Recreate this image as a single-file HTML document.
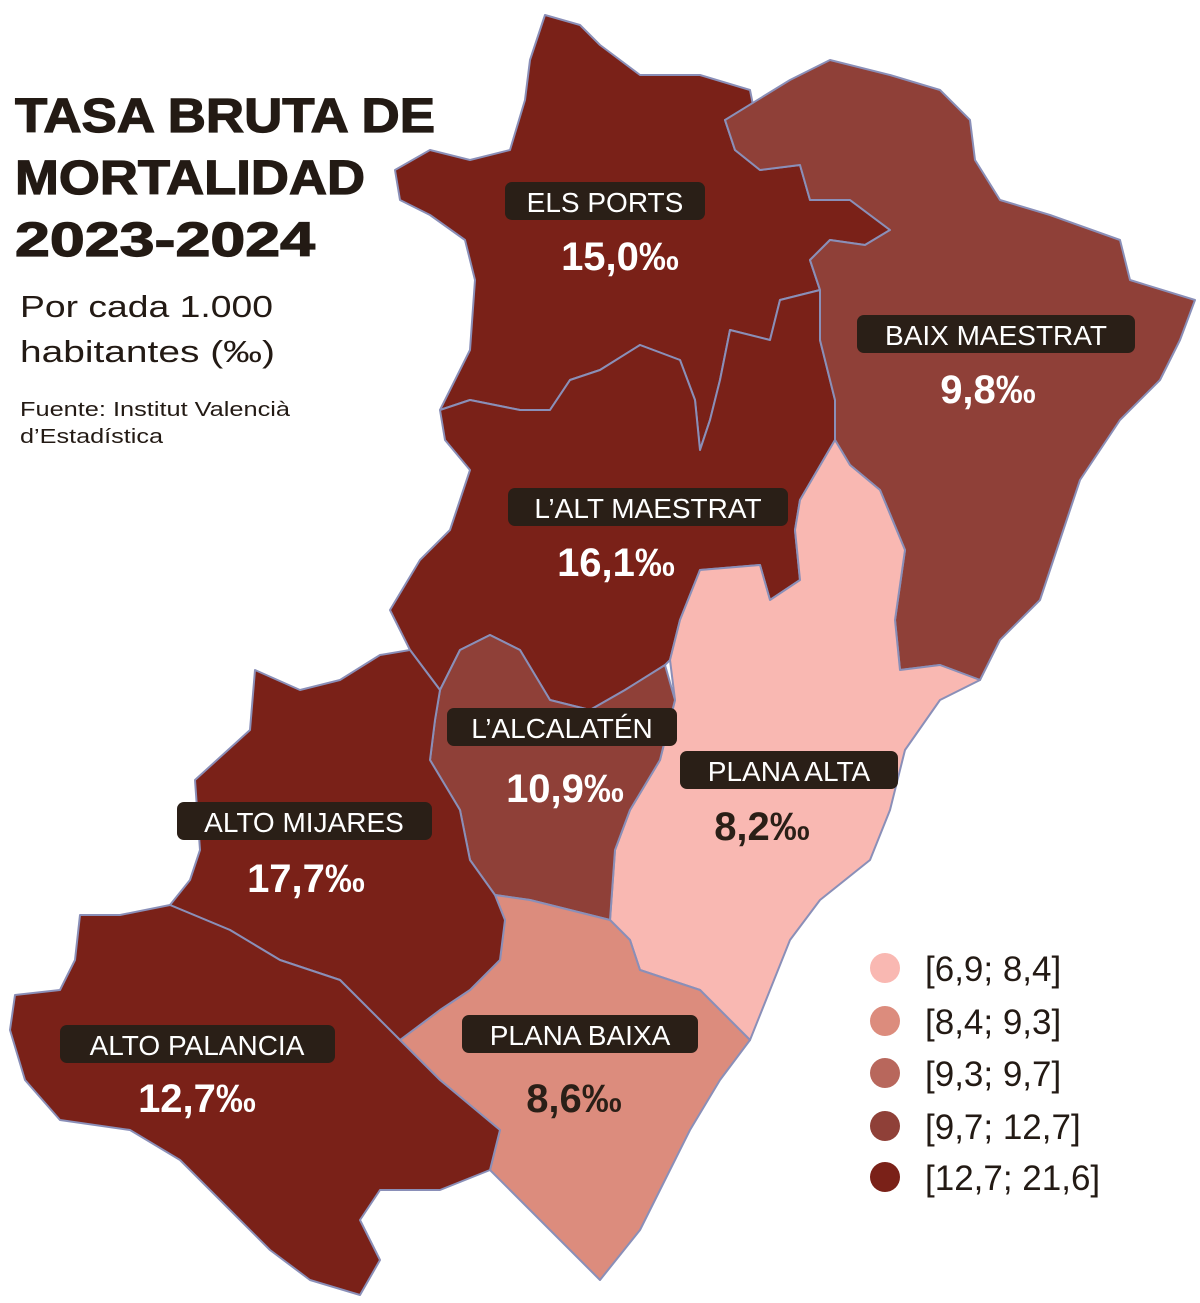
<!DOCTYPE html>
<html><head><meta charset="utf-8"><style>
body{margin:0;background:#fff;}
svg{display:block;font-family:"Liberation Sans",sans-serif;}
</style></head><body>
<svg width="1200" height="1303" viewBox="0 0 1200 1303">
<g stroke="#8a8fb8" stroke-width="2" stroke-linejoin="round">
<polygon fill="#7a2118" points="545,15 580,25 600,45 640,75 700,75 750,90 755,115 725,120 735,150 760,170 800,165 810,200 850,200 890,230 865,245 830,240 810,260 820,290 800,295 780,300 770,340 730,330 720,380 710,420 700,450 695,400 680,360 640,345 600,370 570,380 550,410 520,410 470,400 440,410 470,350 475,280 465,240 430,215 400,200 395,170 430,150 470,160 510,150 525,100 530,60"/>
<polygon fill="#7a2118" points="440,410 470,400 520,410 550,410 570,380 600,370 640,345 680,360 695,400 700,450 710,420 720,380 730,330 770,340 780,300 800,295 820,290 820,340 835,400 835,440 800,500 795,530 800,580 770,600 760,565 700,570 680,620 670,660 665,665 625,690 590,710 550,700 520,650 490,635 460,650 440,690 410,650 390,610 420,560 450,530 470,470 445,440"/>
<polygon fill="#8f4038" points="725,120 790,80 830,60 890,75 940,90 970,120 975,160 1000,200 1050,215 1120,240 1130,280 1195,300 1180,340 1160,380 1120,420 1080,480 1060,540 1040,600 1000,640 980,680 940,665 900,670 895,620 905,550 880,490 850,465 835,440 835,400 820,340 820,290 810,260 830,240 865,245 890,230 850,200 810,200 800,165 760,170 735,150"/>
<polygon fill="#f9b8b2" points="835,440 850,465 880,490 905,550 895,620 900,670 940,665 980,680 940,700 905,750 890,810 870,860 820,900 790,940 770,990 750,1040 700,990 640,970 630,940 610,920 615,850 630,810 660,760 675,700 670,660 680,620 700,570 760,565 770,600 800,580 795,530 800,500"/>
<polygon fill="#8f4038" points="440,690 460,650 490,635 520,650 550,700 590,710 625,690 665,665 675,700 660,760 630,810 615,850 610,920 570,910 530,900 495,895 470,860 460,810 430,760 435,720"/>
<polygon fill="#dc8c7d" points="495,895 530,900 570,910 610,920 630,940 640,970 700,990 750,1040 720,1080 690,1130 660,1190 640,1230 600,1280 560,1240 510,1190 490,1170 500,1130 440,1080 400,1040 440,1010 470,990 500,960 505,920"/>
<polygon fill="#7a2118" points="255,670 300,690 340,680 380,655 410,650 440,690 435,720 430,760 460,810 470,860 495,895 505,920 500,960 470,990 440,1010 400,1040 380,1020 340,980 280,960 230,930 170,905 190,880 200,850 195,780 250,730"/>
<polygon fill="#7a2118" points="80,915 120,915 170,905 230,930 280,960 340,980 380,1020 400,1040 440,1080 500,1130 490,1170 440,1190 380,1190 360,1220 380,1260 360,1295 310,1280 270,1250 230,1210 180,1160 130,1130 60,1120 25,1080 10,1030 15,995 60,990 75,960"/>
</g>
<g font-weight="bold" font-size="48" fill="#231a14" stroke="#231a14" stroke-width="1.2">
<text x="15" y="132" textLength="420" lengthAdjust="spacingAndGlyphs">TASA BRUTA  DE</text>
<text x="15" y="194" textLength="350" lengthAdjust="spacingAndGlyphs">MORTALIDAD</text>
<text x="15" y="256" textLength="300" lengthAdjust="spacingAndGlyphs">2023-2024</text>
</g>
<g font-size="31" fill="#231a14">
<text x="20" y="317" textLength="253" lengthAdjust="spacingAndGlyphs">Por cada 1.000</text>
<text x="20" y="362" textLength="255" lengthAdjust="spacingAndGlyphs">habitantes (‰)</text>
</g>
<g font-size="20" fill="#231a14">
<text x="20" y="416" textLength="270" lengthAdjust="spacingAndGlyphs">Fuente: Institut Valencià</text>
<text x="20" y="443" textLength="143" lengthAdjust="spacingAndGlyphs">d’Estadística</text>
</g>
<g font-size="28" text-anchor="middle">
<g><rect x="505" y="182" width="200" height="38" rx="7" fill="#2a1f17"/><text x="605" y="212" fill="#fff">ELS PORTS</text><text x="620" y="270" font-size="40" font-weight="bold" fill="#fff">15,0‰</text></g>
<g><rect x="857" y="315" width="278" height="38" rx="7" fill="#2a1f17"/><text x="996" y="345" fill="#fff">BAIX MAESTRAT</text><text x="988" y="403" font-size="40" font-weight="bold" fill="#fff">9,8‰</text></g>
<g><rect x="508" y="488" width="280" height="38" rx="7" fill="#2a1f17"/><text x="648" y="518" fill="#fff">L’ALT MAESTRAT</text><text x="616" y="576" font-size="40" font-weight="bold" fill="#fff">16,1‰</text></g>
<g><rect x="447" y="708" width="230" height="38" rx="7" fill="#2a1f17"/><text x="562" y="738" fill="#fff">L’ALCALATÉN</text><text x="565" y="802" font-size="40" font-weight="bold" fill="#fff">10,9‰</text></g>
<g><rect x="680" y="751" width="218" height="38" rx="7" fill="#2a1f17"/><text x="789" y="781" fill="#fff">PLANA ALTA</text><text x="762" y="840" font-size="40" font-weight="bold" fill="#2a1f17">8,2‰</text></g>
<g><rect x="177" y="802" width="255" height="38" rx="7" fill="#2a1f17"/><text x="304" y="832" fill="#fff">ALTO MIJARES</text><text x="306" y="892" font-size="40" font-weight="bold" fill="#fff">17,7‰</text></g>
<g><rect x="462" y="1015" width="236" height="38" rx="7" fill="#2a1f17"/><text x="580" y="1045" fill="#fff">PLANA BAIXA</text><text x="574" y="1112" font-size="40" font-weight="bold" fill="#2a1f17">8,6‰</text></g>
<g><rect x="60" y="1025" width="275" height="38" rx="7" fill="#2a1f17"/><text x="197" y="1055" fill="#fff">ALTO PALANCIA</text><text x="197" y="1112" font-size="40" font-weight="bold" fill="#fff">12,7‰</text></g>
</g>
<g font-size="35" fill="#231a14">
<circle cx="885" cy="968" r="15" fill="#f9b8b2"/><text x="925" y="981">[6,9; 8,4]</text>
<circle cx="885" cy="1021" r="15" fill="#dc8c7d"/><text x="925" y="1034">[8,4; 9,3]</text>
<circle cx="885" cy="1073" r="15" fill="#b8675c"/><text x="925" y="1086">[9,3; 9,7]</text>
<circle cx="885" cy="1126" r="15" fill="#8f4038"/><text x="925" y="1139">[9,7; 12,7]</text>
<circle cx="885" cy="1177" r="15" fill="#7a2118"/><text x="925" y="1190">[12,7; 21,6]</text>
</g>
</svg>
</body></html>
